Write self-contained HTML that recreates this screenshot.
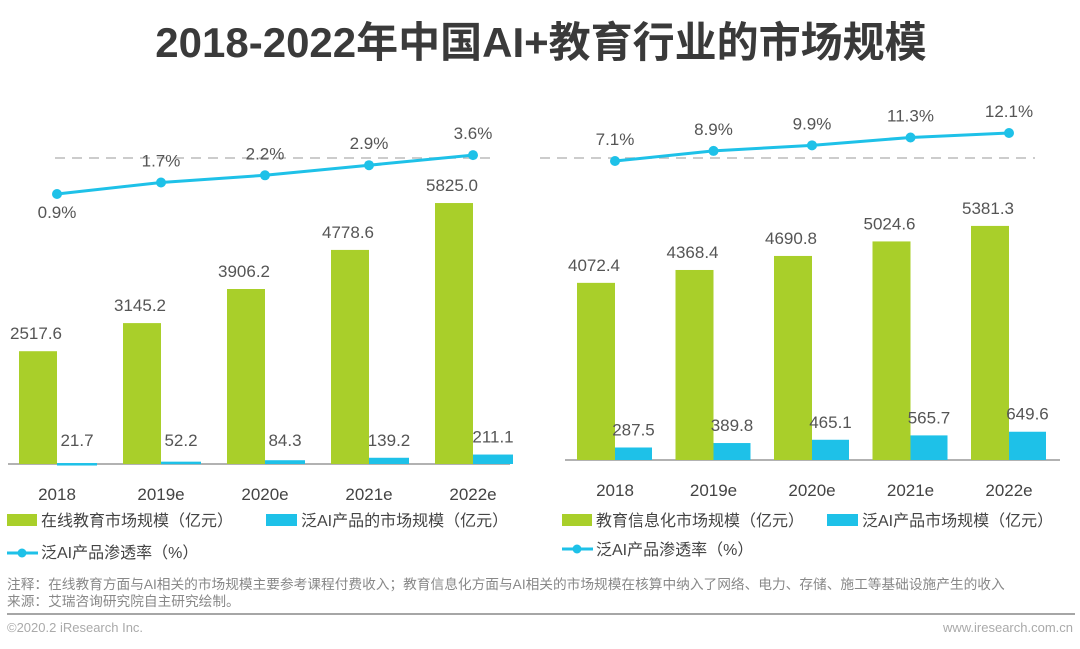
<!DOCTYPE html>
<html><head><meta charset="utf-8"><style>
body{margin:0;width:1080px;height:644px;background:#fff;overflow:hidden;font-family:"Liberation Sans","Noto Sans CJK SC",sans-serif;}
svg text{font-family:"Liberation Sans","Noto Sans CJK SC",sans-serif;}
</style></head><body>
<svg width="1080" height="644">
<text x="541" y="57" text-anchor="middle" font-size="42" font-weight="bold" fill="#3a3a3a">2018-2022年中国AI+教育行业的市场规模</text>
<line x1="55" y1="158" x2="490" y2="158" stroke="#bbb" stroke-dasharray="10,7" stroke-width="1.5"/>
<line x1="540" y1="158" x2="1035" y2="158" stroke="#bbb" stroke-dasharray="10,7" stroke-width="1.5"/>
<g id="plots"></g>
<g>
<rect x="7" y="514" width="30" height="12" fill="#a9cf2a"/><text x="41" y="526" font-size="16" fill="#444">在线教育市场规模（亿元）</text>
<rect x="266" y="514" width="31" height="12" fill="#1ec1e8"/><text x="301" y="526" font-size="16" fill="#444">泛AI产品的市场规模（亿元）</text>
<line x1="7" y1="553" x2="38" y2="553" stroke="#1ec1e8" stroke-width="3"/><circle cx="22" cy="553" r="4.5" fill="#1ec1e8"/><text x="41" y="558" font-size="16" fill="#444">泛AI产品渗透率（%）</text>
</g>
<g>
<rect x="562" y="514" width="30" height="12" fill="#a9cf2a"/><text x="596" y="526" font-size="16" fill="#444">教育信息化市场规模（亿元）</text>
<rect x="827" y="514" width="31" height="12" fill="#1ec1e8"/><text x="862" y="526" font-size="16" fill="#444">泛AI产品市场规模（亿元）</text>
<line x1="562" y1="549" x2="593" y2="549" stroke="#1ec1e8" stroke-width="3"/><circle cx="577" cy="549" r="4.5" fill="#1ec1e8"/><text x="596" y="555" font-size="16" fill="#444">泛AI产品渗透率（%）</text>
</g>
<text x="7" y="589" font-size="13.7" fill="#888">注释：在线教育方面与AI相关的市场规模主要参考课程付费收入；教育信息化方面与AI相关的市场规模在核算中纳入了网络、电力、存储、施工等基础设施产生的收入</text>
<text x="7" y="606" font-size="13.7" fill="#888">来源：艾瑞咨询研究院自主研究绘制。</text>
<line x1="7" y1="614" x2="1075" y2="614" stroke="#888" stroke-width="1.5"/>
<text x="7" y="632" font-size="13" fill="#aaa">©2020.2 iResearch Inc.</text>
<text x="1073" y="632" font-size="13" fill="#aaa" text-anchor="end">www.iresearch.com.cn</text>
</svg>
<script>
const categories=["2018","2019e","2020e","2021e","2022e"];
const leftGreen=[2517.6,3145.2,3906.2,4778.6,5825.0];
const leftBlue=[21.7,52.2,84.3,139.2,211.1];
const leftRate=[0.9,1.7,2.2,2.9,3.6];
const rightGreen=[4072.4,4368.4,4690.8,5024.6,5381.3];
const rightBlue=[287.5,389.8,465.1,565.7,649.6];
const rightRate=[7.1,8.9,9.9,11.3,12.1];
const NS="http://www.w3.org/2000/svg";
const g=document.getElementById('plots');
function mk(t,a,txt){const e=document.createElementNS(NS,t);for(const k in a)e.setAttribute(k,a[k]);if(txt!==undefined)e.textContent=txt;g.appendChild(e);return e;}
function panel(p,green,blue,rate){
  const x=i=>p.x0+i*p.step;
  const y=v=>p.base-v*p.sc;
  const ly=v=>p.ly0-(v-p.r0)*p.rs;
  const ax=mk('line',{x1:p.ax1,y1:p.base,x2:p.ax2,y2:p.base,stroke:'#999','stroke-width':1.5});
  
  
  categories.forEach((c,i)=>{
    const gx=x(i);
    const b=mk('rect',{x:gx,y:y(green[i]),width:p.bw,height:green[i]*p.sc,fill:'#a9cf2a'});
    
    
    const t=mk('text',{x:gx+p.bw/2-2,y:y(green[i])-12,'text-anchor':'middle','font-size':17,fill:'#555'},green[i].toFixed(1));
    
    
    const bb=mk('rect',{x:gx+p.bw,y:y(blue[i]),width:p.bw2,height:Math.max(blue[i]*p.sc,2.5),fill:'#1ec1e8'});
    
    
    const t2=mk('text',{x:gx+p.bw+p.bw2/2,y:Math.min(y(blue[i])-12,p.base-18),'text-anchor':'middle','font-size':17,fill:'#555'},blue[i].toFixed(1));
    
    
    const xl=mk('text',{x:gx+p.bw,y:p.base+36,'text-anchor':'middle','font-size':17,fill:'#444'},c);
    
    
  });
  const pts=rate.map((v,i)=>(x(i)+p.bw)+','+ly(v)).join(' ');
  const pl=mk('polyline',{points:pts,fill:'none',stroke:'#1ec1e8','stroke-width':3});
  
  
  rate.forEach((v,i)=>{
    const c=mk('circle',{cx:x(i)+p.bw,cy:ly(v),r:5,fill:'#1ec1e8'});
    
    
    const below=p.n==='left'&&i===0;
    const t=mk('text',{x:x(i)+p.bw,y:below?ly(v)+24:ly(v)-16,'text-anchor':'middle','font-size':17,fill:'#555'},v.toFixed(1)+'%');
    
    
  });
}
panel({n:'left',x0:19,step:104,bw:38,bw2:40,base:464,sc:0.0448,ly0:194,r0:0.9,rs:14.4,ax1:8,ax2:510},leftGreen,leftBlue,leftRate);
panel({n:'right',x0:577,step:98.5,bw:38,bw2:37,base:460,sc:0.0435,ly0:161,r0:7.1,rs:5.6,ax1:565,ax2:1060},rightGreen,rightBlue,rightRate);
</script>
</body></html>
